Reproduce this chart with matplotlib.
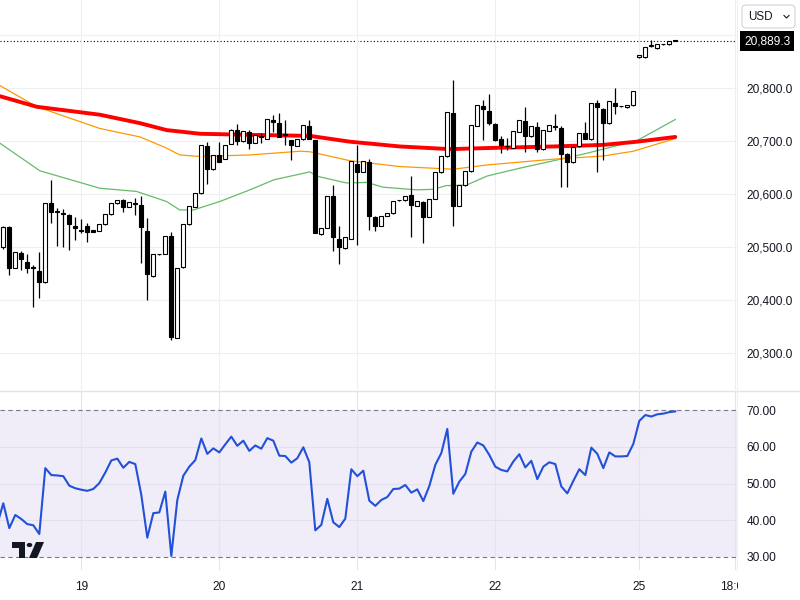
import matplotlib
matplotlib.use('Agg')
import matplotlib.pyplot as plt
from matplotlib.patches import Rectangle, FancyBboxPatch, Polygon, Circle
from matplotlib.lines import Line2D
import numpy as np

plt.rcParams['font.family'] = ['Liberation Sans', 'DejaVu Sans']

# hourly candles, index 0 = first visible bar
opens = [20499, 20537, 20460, 20488, 20472, 20462, 20455, 20433, 20584, 20568,
         20564, 20561, 20540, 20532, 20540, 20532, 20531, 20543, 20562, 20583,
         20588, 20576, 20583, 20580, 20530, 20445, 20486, 20486, 20521, 20328,
         20462, 20543, 20576, 20602, 20691, 20647, 20673, 20667, 20695, 20721,
         20700, 20717, 20697, 20710, 20705, 20740, 20734, 20714, 20702, 20691,
         20704, 20729, 20702, 20524, 20535, 20596, 20515, 20498, 20516, 20656,
         20642, 20660, 20556, 20540, 20559, 20564, 20588, 20588, 20598, 20578,
         20585, 20556, 20590, 20641, 20672, 20753, 20578, 20617, 20643, 20729,
         20767, 20757, 20733, 20704, 20691, 20688, 20718, 20739, 20709, 20727,
         20685, 20720, 20728, 20725, 20676, 20660, 20690, 20716, 20704, 20773,
         20761, 20734, 20773, 20766, 20764, 20768, 20859, 20859, 20879, 20876,
         20883, 20883, 20890.5]
highs = [20540, 20539, 20491, 20493, 20487, 20466, 20491, 20584, 20627, 20573,
         20571, 20563, 20557, 20553, 20546, 20533, 20543, 20562, 20584, 20589,
         20590, 20585, 20592, 20597, 20554, 20487, 20487, 20521, 20528, 20460,
         20543, 20578, 20602, 20693, 20699, 20673, 20698, 20692, 20723, 20732,
         20719, 20722, 20712, 20716, 20741, 20750, 20753, 20740, 20703, 20704,
         20731, 20740, 20703, 20536, 20597, 20617, 20540, 20518, 20663, 20692,
         20663, 20666, 20558, 20559, 20564, 20586, 20589, 20597, 20634, 20586,
         20586, 20590, 20641, 20672, 20755, 20816, 20617, 20643, 20730, 20769,
         20778, 20789, 20734, 20709, 20706, 20719, 20740, 20764, 20729, 20737,
         20721, 20731, 20751, 20728, 20677, 20689, 20715, 20736, 20773, 20777,
         20762, 20776, 20800, 20767, 20768, 20794, 20863, 20878, 20891, 20883,
         20884, 20889, 20891]
lows = [20496, 20447, 20460, 20457, 20450, 20386, 20404, 20432, 20545, 20502,
        20499, 20494, 20513, 20527, 20510, 20528, 20530, 20542, 20561, 20582,
        20567, 20575, 20561, 20470, 20400, 20444, 20485, 20486, 20324, 20327,
        20461, 20542, 20575, 20601, 20619, 20646, 20661, 20666, 20694, 20693,
        20699, 20685, 20696, 20697, 20705, 20717, 20707, 20693, 20664, 20691,
        20703, 20705, 20526, 20523, 20535, 20492, 20467, 20497, 20516, 20504,
        20642, 20532, 20531, 20539, 20558, 20563, 20587, 20587, 20518, 20577,
        20507, 20556, 20590, 20640, 20671, 20540, 20577, 20616, 20642, 20728,
        20703, 20731, 20700, 20678, 20683, 20687, 20717, 20680, 20708, 20680,
        20684, 20719, 20721, 20614, 20614, 20659, 20689, 20704, 20703, 20642,
        20665, 20733, 20751, 20765, 20763, 20767, 20858, 20858, 20878, 20875,
        20882, 20882, 20889]
closes = [20537, 20461, 20490, 20477, 20460, 20460, 20433, 20583, 20567, 20566,
          20562, 20543, 20535, 20530, 20529, 20529, 20543, 20562, 20583, 20588,
          20576, 20585, 20582, 20537, 20449, 20486, 20486, 20521, 20329, 20460,
          20543, 20578, 20602, 20693, 20647, 20673, 20661, 20692, 20722, 20701,
          20719, 20697, 20712, 20707, 20741, 20737, 20707, 20712, 20693, 20704,
          20731, 20705, 20526, 20536, 20597, 20518, 20499, 20518, 20663, 20642,
          20663, 20558, 20540, 20559, 20564, 20586, 20588, 20597, 20580, 20586,
          20557, 20590, 20641, 20672, 20755, 20578, 20617, 20643, 20730, 20769,
          20760, 20734, 20703, 20693, 20690, 20719, 20740, 20710, 20729, 20686,
          20721, 20731, 20727, 20676, 20661, 20689, 20715, 20705, 20773, 20764,
          20734, 20776, 20767, 20766, 20768, 20794, 20863, 20878, 20881, 20883,
          20883, 20889, 20889.3]

# moving averages read at a few points (bar index, price)
ma_red_x = [-0.55, 5.6, 16.1, 22.8, 27.2, 32.8, 41.1, 51.1, 57.8, 66.1, 74.4, 80.6, 91.7, 100.0, 105.6, 112]
ma_red = [20785, 20765, 20750, 20734, 20721, 20714, 20712, 20710, 20699, 20690, 20685, 20687, 20690, 20693, 20699, 20708]
ma_orange_x = [-0.55, 5.6, 16.1, 22.8, 27.2, 29.4, 32.8, 41.1, 49.5, 51.1, 57.8, 66.1, 75.0, 80.6, 91.7, 100.0, 105.0, 112]
ma_orange = [20805, 20765, 20724, 20708, 20687, 20674, 20671, 20674, 20681, 20680, 20663, 20652, 20647, 20655, 20666, 20672, 20681, 20705]
ma_green_x = [-0.55, 6.1, 16.1, 22.2, 27.2, 29.4, 31.7, 36.1, 41.1, 45.1, 51.1, 52.2, 57.2, 60.6, 63.3,
              68.9, 71.7, 73.8, 77.2, 80.6, 86.1, 91.7, 97.2, 102.8, 105.6, 112]
ma_green = [20696, 20644, 20611, 20605, 20586, 20570, 20570, 20586, 20608, 20627, 20642, 20634, 20621, 20622, 20613,
            20608, 20609, 20616, 20617, 20634, 20649, 20663, 20677, 20693, 20701, 20741]

# RSI, starting one bar before the first visible candle
rsi = [38.9,
       44.6, 37.8, 41.4, 40.3, 38.9, 38.6, 36.2, 54.2, 52.3, 52.2,
       52.0, 49.4, 48.7, 48.3, 48.0, 48.5, 50.1, 53.0, 56.3, 56.8,
       54.3, 55.9, 55.3, 46.9, 35.2, 41.9, 42.1, 47.8, 30.2, 45.5,
       52.1, 54.6, 56.4, 62.3, 58.1, 59.6, 58.5, 60.7, 62.8, 60.3,
       61.7, 58.9, 60.4, 59.5, 62.4, 61.7, 57.6, 57.5, 55.7, 56.9,
       59.9, 55.8, 37.2, 38.7, 45.8, 39.4, 38.1, 40.4, 53.9, 52.0,
       53.5, 45.3, 43.9, 45.5, 46.3, 48.5, 48.6, 49.6, 47.5, 48.4,
       45.2, 49.3, 55.1, 58.3, 64.9, 47.2, 50.5, 52.6, 58.7, 61.2,
       60.4, 57.8, 54.6, 53.7, 53.3, 56.0, 58.0, 54.4, 56.2, 51.2,
       54.6, 55.8, 55.3, 49.2, 47.3, 50.7, 53.9, 52.3, 59.8, 58.1,
       54.2, 58.5, 57.4, 57.4, 57.5, 60.8, 67.1, 68.7, 68.3, 68.9,
       69.1, 69.5, 69.7]

day_ticks = [13, 36, 59, 82, 106, 122]
day_labels = ['19', '20', '21', '22', '25', '18:00']
price_ticks = [20300, 20400, 20500, 20600, 20700, 20800]
rsi_ticks = [30, 40, 50, 60, 70]

W, H = 800, 600
fig = plt.figure(figsize=(8, 6), dpi=100)
fig.patch.set_facecolor('white')


def fx(px):
    return px / W


def fy(py):
    return 1 - py / H


ax = fig.add_axes([0, fy(390), fx(737), 390 / H])
axr = fig.add_axes([0, fy(570), fx(737), (570 - 391) / H])

grid_c = '#eeeff2'
txt_c = '#131722'

# ---- price pane ----
n = len(closes)
idx = np.arange(n)
for i in idx:
    o, h, l, c = opens[i], highs[i], lows[i], closes[i]
    ax.vlines(i, l, h, color='black', lw=0.9, zorder=3)
    up = c >= o
    ax.add_patch(Rectangle((i - 0.35, min(o, c)), 0.7, max(abs(c - o), 0.3),
                           facecolor='white' if up else 'black',
                           edgecolor='black', lw=0.8, zorder=4))

ax.plot(ma_green_x, ma_green, color='#66bb6a', lw=0.9, zorder=2)
ax.plot(ma_orange_x, ma_orange, color='#ff9800', lw=0.9, zorder=2)
ax.plot(ma_red_x, ma_red, color='#ff0000', lw=2.8, zorder=2.5, solid_capstyle='round')

last = closes[-1]
ax.axhline(last, color='black', lw=0.8, linestyle=(0, (1, 2)), zorder=1)
ax.annotate(f'{last:,.1f}', xy=(1.0, last), xycoords=('axes fraction', 'data'),
            xytext=(5, 0), textcoords='offset points', ha='left', va='center',
            color='white', fontsize=8.6, annotation_clip=False,
            bbox=dict(boxstyle='square,pad=0.3', fc='black', ec='none'))

ax.set_xlim(-0.55, 122.28)
ax.set_ylim(20229.6, 20966.9)
ax.set_xticks(day_ticks)
ax.set_xticklabels([])
ax.set_yticks(price_ticks)
ax.set_yticklabels([f'{p:,.1f}' for p in price_ticks])
ax.yaxis.tick_right()
ax.tick_params(axis='both', length=0)
ax.tick_params(axis='y', pad=7, labelsize=8.6, labelcolor=txt_c)
ax.grid(True, color=grid_c, lw=0.8, zorder=0)
ax.axhline(20900, color=grid_c, lw=0.8, zorder=0)
for s in ax.spines.values():
    s.set_visible(False)

# ---- RSI pane ----
rsi_x = np.arange(-1, n)
axr.axhspan(30, 70, color='#7e57c2', alpha=0.1, lw=0, zorder=0)
axr.plot(rsi_x, rsi, color='#2151d8', lw=1.5, zorder=3)
for lvl in (30, 70):
    axr.axhline(lvl, color='#787b86', lw=0.8, linestyle=(0, (4, 3)), zorder=2)
for lvl in (40, 50, 60):
    axr.axhline(lvl, color='#e4e1ee', lw=0.8, zorder=1)
for d in day_ticks:
    axr.axvline(d, color='#e4e4ea', lw=0.8, zorder=1)
axr.set_xlim(-0.55, 122.28)
axr.set_ylim(26.37, 75.27)
axr.set_yticks(rsi_ticks)
axr.set_yticklabels([f'{v:.2f}' for v in rsi_ticks])
axr.yaxis.tick_right()
axr.set_xticks(day_ticks)
axr.set_xticklabels(day_labels)
axr.tick_params(axis='both', length=0, labelsize=8.6, labelcolor=txt_c)
axr.tick_params(axis='y', pad=7)
axr.tick_params(axis='x', pad=8)
for s in axr.spines.values():
    s.set_visible(False)

# pane separators
fig.add_artist(Line2D([0, 1], [fy(390.5), fy(390.5)], color='#e0e3eb', lw=1.0, transform=fig.transFigure))
fig.add_artist(Line2D([fx(737), fx(737)], [fy(390), 1], color='#f0f1f4', lw=0.8, transform=fig.transFigure))
fig.add_artist(Line2D([fx(737), fx(737)], [fy(391), fy(570)], color='#f0f1f4', lw=0.8, transform=fig.transFigure))
# cover the part of the last time label that sits under the price scale
fig.add_artist(Rectangle((fx(737.5), 0), fx(62.5), fy(572), transform=fig.transFigure,
                         fc='white', ec='none', zorder=10))

# currency box
fig.add_artist(FancyBboxPatch((fx(742), fy(28)), fx(53), 23 / H, boxstyle='round,pad=0,rounding_size=0.006',
                              transform=fig.transFigure, fc='white', ec='#d1d4dc', lw=0.8))
fig.text(fx(748), fy(16.5), 'USD', fontsize=8.4, color=txt_c, va='center', ha='left')
fig.add_artist(Line2D([fx(784), fx(786.5), fx(789)], [fy(15.5), fy(18), fy(15.5)],
                      color=txt_c, lw=0.8, transform=fig.transFigure))

# TradingView logo (rough)
fig.add_artist(Polygon([(fx(12), fy(542)), (fx(25), fy(542)), (fx(25), fy(558)), (fx(19), fy(558)),
                        (fx(19), fy(548)), (fx(12), fy(548))], closed=True, transform=fig.transFigure,
                       fc='#131722', ec='none', zorder=5))
fig.add_artist(Circle((fx(29.5), fy(545)), 2.8 / W, transform=fig.transFigure, fc='#131722', ec='none', zorder=5))
fig.add_artist(Polygon([(fx(36), fy(542)), (fx(44), fy(542)), (fx(37), fy(558)), (fx(29), fy(558))],
                       closed=True, transform=fig.transFigure, fc='#131722', ec='none', zorder=5))

fig.savefig('out.png', dpi=100, facecolor='white')
